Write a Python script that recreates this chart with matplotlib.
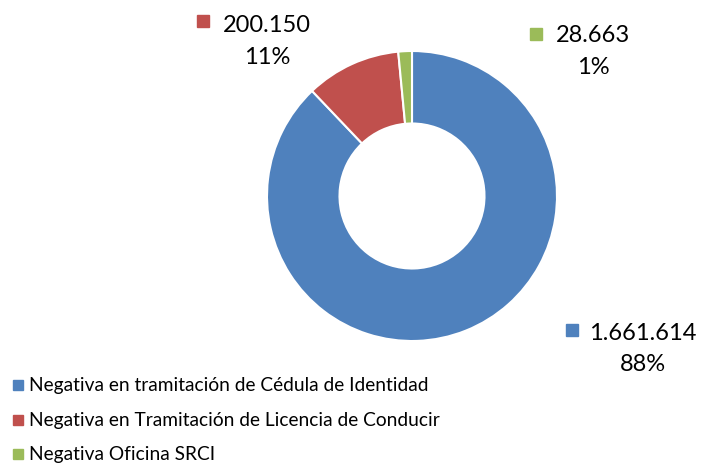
import matplotlib
matplotlib.use("Agg")
import matplotlib.pyplot as plt

# DATA
categories = ["Negativa en tramitación de Cédula de Identidad",
              "Negativa en Tramitación de Licencia de Conducir",
              "Negativa Oficina SRCI"]
values = [1661614, 200150, 28663]
value_labels = ["1.661.614", "200.150", "28.663"]
pct_labels = ["88%", "11%", "1%"]
colors = ["#4F81BD", "#C0504D", "#9BBB59"]

plt.rcParams['font.family'] = ['Lato', 'DejaVu Sans']

W, H = 702, 464
fig = plt.figure(figsize=(W/100, H/100), dpi=100)
ax = fig.add_axes([0, 0, 1, 1])

# DONUT, pixel coords (y flipped)
cx, cy, r = 412, H - 197, 145
ax.pie(values, colors=colors, startangle=90, counterclock=False,
       center=(cx, cy), radius=r, frame=True,
       wedgeprops=dict(width=r*0.5, edgecolor="white", linewidth=1.5))
ax.set_xlim(0, W)
ax.set_ylim(0, H)
ax.set_aspect("auto")
ax.axis("off")

# DATA LABELS  (marker x, marker y, text center x, first line y)
spots = [(572, 331, 643, 333), (203, 22, 267, 25), (536, 35, 593, 35)]
for i, (mx, my, tx, ty) in enumerate(spots):
    ax.plot(mx, H - my, marker="s", ms=8, color=colors[i], mec=colors[i])
    ax.text(tx, H - ty, value_labels[i], ha="center", va="center", fontsize=17)
    ax.text(tx, H - ty - 32, pct_labels[i], ha="center", va="center", fontsize=17)

# LEGEND
for i, cat in enumerate(categories):
    y = H - (386 + 34.5*i)
    ax.plot(18, y, marker="s", ms=7, color=colors[i], mec=colors[i])
    ax.text(29, y, cat, ha="left", va="center", fontsize=13.8)

fig.savefig("out.png", dpi=100)
